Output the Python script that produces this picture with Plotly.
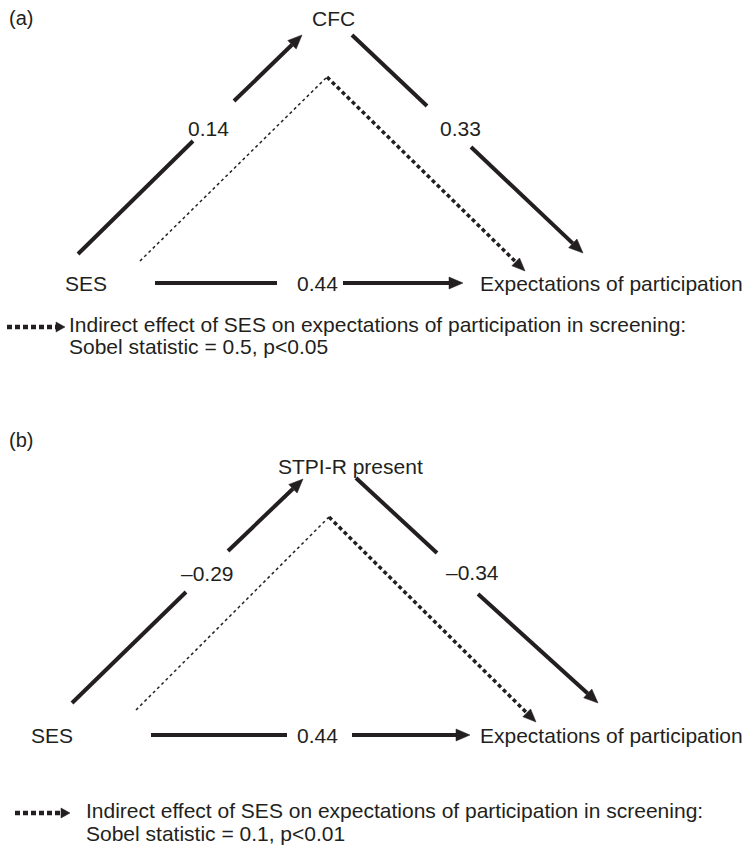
import numpy as np
import plotly.graph_objects as go

# ---------------- data ----------------
panel_labels = ["(a)", "(b)"]
predictor = ["SES", "SES"]
mediators = ["CFC", "STPI-R present"]
outcome = ["Expectations of participation", "Expectations of participation"]
path_a = [0.14, -0.29]   # SES -> mediator
path_b = [0.33, -0.34]   # mediator -> expectations
path_c = [0.44, 0.44]    # SES -> expectations
sobel_stat = [0.5, 0.1]
p_values = ["p<0.05", "p<0.01"]
legend_text = "Indirect effect of SES on expectations of participation in screening:"

# ---------------- layout geometry (pixels, y down) ----------------
geo = [
    dict(panel=(7, 18), pred=(86, 283), med=(333, 18), out=(478, 283),
         a=((78, 254), (302, 35)), a_gap=((193, 141), (234, 101)), a_lab=(208, 128),
         b=((352, 35), (583, 253)), b_gap=((427, 106), (471, 147)), b_lab=(460, 128),
         c=((155, 283), (463, 283)), c_gap=((277, 283), (343, 283)), c_lab=(317, 283),
         ind=((140, 261), (327, 77), (525, 271)),
         leg_arrow=((7, 327), (65, 327)), leg1=(67, 324), leg2=(67, 346)),
    dict(panel=(7, 440), pred=(52, 735), med=(350, 466), out=(478, 735),
         a=((72, 703), (303, 479)), a_gap=((186, 592), (228, 551)), a_lab=(207, 573),
         b=((356, 478), (598, 703)), b_gap=((437, 553), (478, 594)), b_lab=(472, 572),
         c=((151, 735), (470, 735)), c_gap=((287, 735), (352, 735)), c_lab=(317, 735),
         ind=((136, 710), (329, 517), (536, 722)),
         leg_arrow=((15, 813), (70, 813)), leg1=(84, 810), leg2=(84, 833)),
]

INK = "#231f20"
FONT = "Liberation Sans, Arial, Helvetica, sans-serif"

fig = go.Figure()


def line(p0, p1, width, dash="solid"):
    fig.add_trace(go.Scatter(x=[p0[0], p1[0]], y=[p0[1], p1[1]], mode="lines",
                             line=dict(color=INK, width=width, dash=dash),
                             hoverinfo="skip"))


def arrow(p0, p1, width, hl, hw, dash="solid", gap=None):
    p0 = np.array(p0, float)
    p1 = np.array(p1, float)
    u = (p1 - p0) / np.linalg.norm(p1 - p0)
    n = np.array([-u[1], u[0]])
    base = p1 - hl * u
    if gap is not None:
        line(p0, gap[0], width, dash)
        line(gap[1], base, width, dash)
    else:
        line(p0, base + 0.5 * u, width, dash)
    tri = [p1, base + n * hw / 2, base - n * hw / 2, p1]
    fig.add_trace(go.Scatter(x=[t[0] for t in tri], y=[t[1] for t in tri],
                             mode="lines", fill="toself", fillcolor=INK,
                             line=dict(color=INK, width=0.5), hoverinfo="skip"))


def text(pos, s, size=21, anchor="center"):
    fig.add_annotation(x=pos[0], y=pos[1], text=s, showarrow=False,
                       xanchor=anchor, yanchor="middle",
                       font=dict(family=FONT, size=size, color=INK))


def fmt(v):
    return f"{v:.2f}".replace("-", "\u2013")


for i, g in enumerate(geo):
    text(g["panel"], panel_labels[i], size=20, anchor="left")
    text(g["pred"], predictor[i])
    text(g["med"], mediators[i])
    text(g["out"], outcome[i], anchor="left")

    # a path
    arrow(g["a"][0], g["a"][1], 4, 14, 12, gap=g["a_gap"])
    text(g["a_lab"], fmt(path_a[i]))
    # b path
    arrow(g["b"][0], g["b"][1], 4, 14, 12, gap=g["b_gap"])
    text(g["b_lab"], fmt(path_b[i]))
    # c path
    arrow(g["c"][0], g["c"][1], 4, 14, 12, gap=g["c_gap"])
    text(g["c_lab"], fmt(path_c[i]))

    # indirect path
    s, apex, e = g["ind"]
    line(s, apex, 1.5, "3px,3px")
    arrow(apex, e, 3.5, 13, 11, dash="4px,3px")

    # legend
    arrow(g["leg_arrow"][0], g["leg_arrow"][1], 4.5, 9, 10, dash="5px,3px")
    text(g["leg1"], legend_text, size=21, anchor="left")
    text(g["leg2"], f"Sobel statistic = {sobel_stat[i]}, {p_values[i].replace('<', '&lt;')}",
         size=21, anchor="left")

fig.update_layout(
    width=745, height=849, margin=dict(l=0, r=0, t=0, b=0),
    paper_bgcolor="white", plot_bgcolor="white", showlegend=False,
    xaxis=dict(range=[0, 745], visible=False, fixedrange=True),
    yaxis=dict(range=[849, 0], visible=False, fixedrange=True),
)

fig.write_html("out.html", config={"displayModeBar": False},
               post_script="document.body.style.margin='0';document.body.style.overflow='hidden';")
